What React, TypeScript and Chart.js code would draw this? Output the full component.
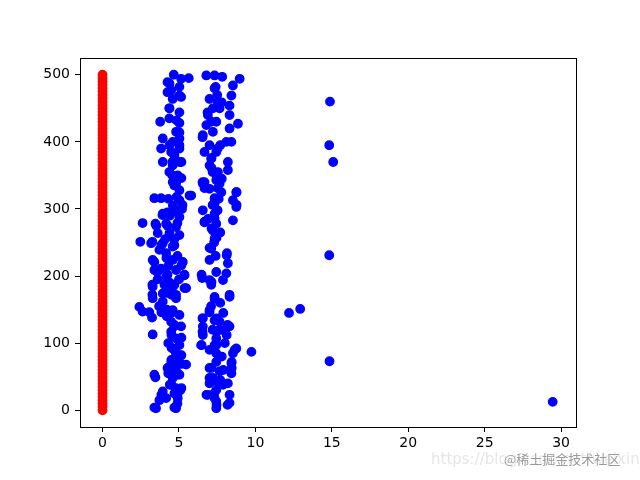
import { useEffect, useRef } from "react";
import { Chart, registerables } from "chart.js";

Chart.register(...registerables);

const xTicks = [0, 5, 10, 15, 20, 25, 30];
const yTicks = [0, 100, 200, 300, 400, 500];

// red series: all at x = 0
const redXValue = 0;
const redY = [
  0, 5, 10, 15, 20, 25, 30, 35, 40, 45, 50, 55, 60, 65, 70, 75, 80, 85, 90, 95,
  100, 105, 110, 115, 120, 125, 130, 135, 140, 145, 150, 155, 160, 165, 170, 175, 180, 185, 190, 195,
  200, 205, 210, 215, 220, 225, 230, 235, 240, 245, 250, 255, 260, 265, 270, 275, 280, 285, 290, 295,
  300, 305, 310, 315, 320, 325, 330, 335, 340, 345, 350, 355, 360, 365, 370, 375, 380, 385, 390, 395,
  400, 405, 410, 415, 420, 425, 430, 435, 440, 445, 450, 455, 460, 465, 470, 475, 480, 485, 490, 495, 500,
];

// blue series, left cluster (x, y)
const blueLeft: [number, number][] = [
  [4.66, 500], [5.64, 495], [5.14, 494], [4.38, 487], [4.49, 477], [5.03, 482], [4.59, 464], [5.14, 467], [4.37, 450], [5.03, 444],
  [3.77, 430], [4.37, 435], [5.03, 428], [4.81, 415], [3.94, 405], [4.59, 400], [5.03, 405], [3.83, 390], [4.49, 385], [5.03, 390],
  [3.94, 370], [4.59, 365], [5.03, 370], [4.37, 355], [4.92, 350], [4.59, 340], [4.81, 338], [5.03, 328], [5.69, 320], [3.39, 316],
  [3.83, 316], [5.03, 313], [4.81, 298], [3.94, 293], [5.03, 288], [2.62, 279], [3.46, 278], [4.16, 278], [4.81, 273], [4.38, 264],
  [3.61, 264], [5.03, 261], [2.47, 251], [3.18, 249], [3.94, 249], [4.59, 244], [3.72, 239], [4.16, 234], [3.28, 224], [4.59, 224],
  [5.25, 221], [3.83, 211], [3.39, 209], [4.81, 209], [5.36, 201], [4.16, 199], [3.28, 184], [4.59, 184], [5.47, 182], [3.94, 174],
  [4.81, 172], [2.41, 154], [2.62, 147], [3.28, 167], [3.94, 162], [4.81, 167], [4.59, 149], [5.03, 142], [3.24, 138], [4.49, 132],
  [5.14, 125], [3.28, 113], [4.49, 117], [4.81, 107], [5.03, 97], [4.59, 92], [5.03, 82], [5.47, 68], [4.38, 65], [4.81, 72],
  [5.03, 53], [3.46, 49], [4.59, 48], [3.94, 28], [4.81, 33], [3.72, 15], [3.5, 3], [4.81, 3], [4.16, 18], [4.92, 18],
  [4.3, 315], [4.6, 305], [4.4, 290], [5.2, 300], [4.1, 255], [4.7, 255], [4.3, 215], [4.9, 230], [3.6, 195], [4.4, 190],
  [5.0, 195], [4.2, 175], [3.7, 155], [4.2, 150], [4.2, 140], [4.7, 125], [4.3, 100], [4.8, 85], [4.5, 75], [4.3, 55],
  [4.8, 60], [4.4, 38], [4.7, 25], [5.1, 30], [4.9, 10],
  [4.25, 489], [4.25, 474], [5.03, 469], [4.38, 450], [4.84, 432], [5.03, 414], [4.38, 395], [5.03, 395], [4.7, 380], [4.57, 370],
  [5.16, 370], [4.57, 350], [5.16, 346], [4.7, 335], [4.84, 318], [5.23, 306], [4.25, 295], [3.92, 291], [4.9, 295], [3.52, 275],
  [4.25, 275], [4.9, 279], [3.26, 251], [3.85, 246], [4.7, 246], [3.39, 221], [4.18, 227], [5.16, 216], [3.59, 206], [4.25, 202],
  [5.36, 202], [3.26, 187], [4.05, 187], [4.7, 187], [5.36, 182], [3.26, 172], [4.51, 172], [3.06, 146], [3.85, 146], [4.57, 146],
  [4.7, 127], [4.51, 112], [5.16, 108], [4.51, 93], [5.16, 82], [4.51, 72], [5.16, 69], [4.25, 63], [3.39, 53], [4.9, 53],
  [4.51, 38], [5.16, 33], [3.85, 23], [4.9, 23], [3.39, 4], [4.7, 4],
];

// blue series, right cluster (x, y)
const blueRight: [number, number][] = [
  [6.79, 499], [7.33, 499], [7.83, 497], [8.97, 494], [7.4, 482], [8.53, 484], [8.43, 469], [7.0, 464], [7.55, 459], [8.31, 454],
  [7.22, 450], [6.89, 440], [7.66, 450], [8.31, 440], [8.86, 427], [6.79, 425], [7.44, 430], [8.31, 420], [6.56, 410], [7.22, 415],
  [8.1, 400], [8.43, 400], [7.0, 395], [6.67, 385], [7.44, 385], [7.11, 375], [8.2, 370], [8.2, 358], [7.0, 365], [7.55, 355],
  [6.67, 340], [7.44, 343], [6.56, 338], [7.66, 338], [7.77, 325], [8.75, 325], [5.8, 320], [8.53, 313], [7.33, 308], [8.75, 303],
  [6.56, 298], [7.33, 293], [6.67, 281], [8.53, 283], [7.44, 278], [7.22, 268], [7.33, 256], [7.11, 241], [8.14, 234], [7.0, 224],
  [8.2, 219], [6.52, 197], [7.44, 206], [8.1, 204], [7.0, 194], [7.88, 194], [7.11, 187], [7.33, 169], [8.31, 172], [7.33, 166],
  [8.31, 169], [7.0, 149], [6.56, 137], [7.33, 134], [7.66, 132], [8.31, 125], [6.56, 125], [7.66, 120], [6.56, 112], [7.44, 107],
  [6.45, 97], [7.44, 97], [8.75, 92], [8.53, 85], [7.44, 85], [7.44, 72], [8.43, 70], [7.0, 63], [7.66, 58], [8.43, 55],
  [7.22, 48], [8.2, 40], [7.0, 40], [7.88, 38], [7.44, 30], [6.89, 23], [8.31, 23], [7.44, 13], [8.31, 11], [7.44, 3],
  [7.5, 470], [7.1, 430], [7.7, 395], [7.2, 355], [7.8, 345], [7.0, 330], [7.6, 315], [6.9, 285], [7.7, 265], [7.3, 250],
  [7.4, 230], [7.7, 160], [7.1, 155], [7.9, 145], [8.0, 118], [7.2, 120], [7.0, 90], [7.8, 80], [7.9, 60], [7.3, 25],
  [7.7, 45], [8.0, 100],
  [7.33, 480], [7.79, 459], [6.87, 444], [6.54, 407], [7.53, 390], [7.13, 376], [7.13, 361], [7.46, 350], [6.54, 340], [6.67, 331],
  [7.53, 331], [8.77, 325], [7.33, 316], [8.77, 306], [7.2, 306], [7.53, 298], [7.33, 286], [6.67, 280], [7.13, 271], [7.46, 257],
  [7.0, 242], [8.12, 231], [6.48, 202], [7.13, 191], [7.0, 146], [6.54, 137], [7.46, 137], [8.18, 127], [6.54, 117], [7.46, 117],
  [8.12, 112], [6.48, 97], [7.33, 97], [8.64, 90], [8.45, 72], [7.13, 63], [8.45, 63], [7.0, 48], [7.53, 42], [6.8, 23],
  [7.33, 18], [7.46, 8], [8.18, 8],
];

// blue series, outliers (x, y)
const blueOutliers: [number, number][] = [
  [14.88, 460], [14.83, 395], [15.09, 370], [14.83, 231], [12.2, 145], [12.93, 151], [14.85, 73], [29.45, 12.5], [9.74, 87],
];

const framePlugin = {
  id: "frame",
  afterDatasetsDraw(chart: any) {
    const { ctx, chartArea } = chart;
    ctx.save();
    ctx.strokeStyle = "#000000";
    ctx.lineWidth = 1;
    ctx.strokeRect(
      Math.round(chartArea.left) + 0.5,
      Math.round(chartArea.top) + 0.5,
      Math.round(chartArea.right - chartArea.left),
      Math.round(chartArea.bottom - chartArea.top)
    );
    ctx.restore();
  },
};

export default function App() {
  const ref = useRef<HTMLCanvasElement | null>(null);

  useEffect(() => {
    if (!ref.current) return;
    const font = { family: "'DejaVu Sans', sans-serif", size: 14 };
    const bluePts = [...blueLeft, ...blueRight, ...blueOutliers].map(([x, y]) => ({ x, y }));
    const chart = new Chart(ref.current, {
      type: "scatter",
      data: {
        datasets: [
          {
            label: "blue",
            data: bluePts,
            backgroundColor: "#0000ff",
            borderColor: "#0000ff",
            borderWidth: 1.4,
            pointRadius: 4.2,
          },
          {
            label: "red",
            data: redY.map((y) => ({ x: redXValue, y })),
            backgroundColor: "#ff0000",
            borderColor: "#ff0000",
            borderWidth: 1.4,
            pointRadius: 4.2,
          },
        ],
      },
      options: {
        responsive: false,
        animation: false,
        events: [],
        layout: { padding: { left: 0, top: 58, right: 64, bottom: 0 } },
        plugins: {
          legend: { display: false },
          tooltip: { enabled: false },
        },
        scales: {
          x: {
            type: "linear",
            min: -1.475,
            max: 30.975,
            afterBuildTicks: (scale: any) => {
              scale.ticks = xTicks.map((v) => ({ value: v }));
            },
            afterFit: (scale: any) => {
              scale.height = 53;
            },
            border: { display: false },
            grid: {
              drawOnChartArea: false,
              drawTicks: true,
              tickLength: 5,
              color: "#000000",
              lineWidth: 1,
            },
            ticks: {
              color: "#000000",
              font,
              padding: 3,
              maxRotation: 0,
              autoSkip: false,
            },
          },
          y: {
            type: "linear",
            min: -25,
            max: 525,
            afterBuildTicks: (scale: any) => {
              scale.ticks = yTicks.map((v) => ({ value: v }));
            },
            afterFit: (scale: any) => {
              scale.width = 80;
            },
            border: { display: false },
            grid: {
              drawOnChartArea: false,
              drawTicks: true,
              tickLength: 5,
              color: "#000000",
              lineWidth: 1,
            },
            ticks: {
              color: "#000000",
              font,
              padding: 5,
              autoSkip: false,
            },
          },
        },
      },
      plugins: [framePlugin],
    });
    return () => chart.destroy();
  }, []);

  return (
    <div
      style={{
        position: "fixed",
        left: 0,
        top: 0,
        width: 640,
        height: 480,
        background: "#ffffff",
        overflow: "hidden",
      }}
    >
      <canvas ref={ref} width={640} height={480} style={{ display: "block" }} />
      <div
        style={{
          position: "absolute",
          left: 431,
          top: 450,
          fontFamily: "'DejaVu Sans', sans-serif",
          fontSize: 15,
          color: "#e6e6e6",
          whiteSpace: "nowrap",
        }}
      >
        https://blog.csdn.net/weixin_
      </div>
      <div
        style={{
          position: "absolute",
          left: 504,
          top: 449,
          fontFamily: "'Noto Sans CJK SC', sans-serif",
          fontSize: 13,
          color: "#9a9a9a",
          whiteSpace: "nowrap",
          textShadow: "0 0 2px #ffffff, 0 0 2px #ffffff",
        }}
      >
        @稀土掘金技术社区
      </div>
    </div>
  );
}
